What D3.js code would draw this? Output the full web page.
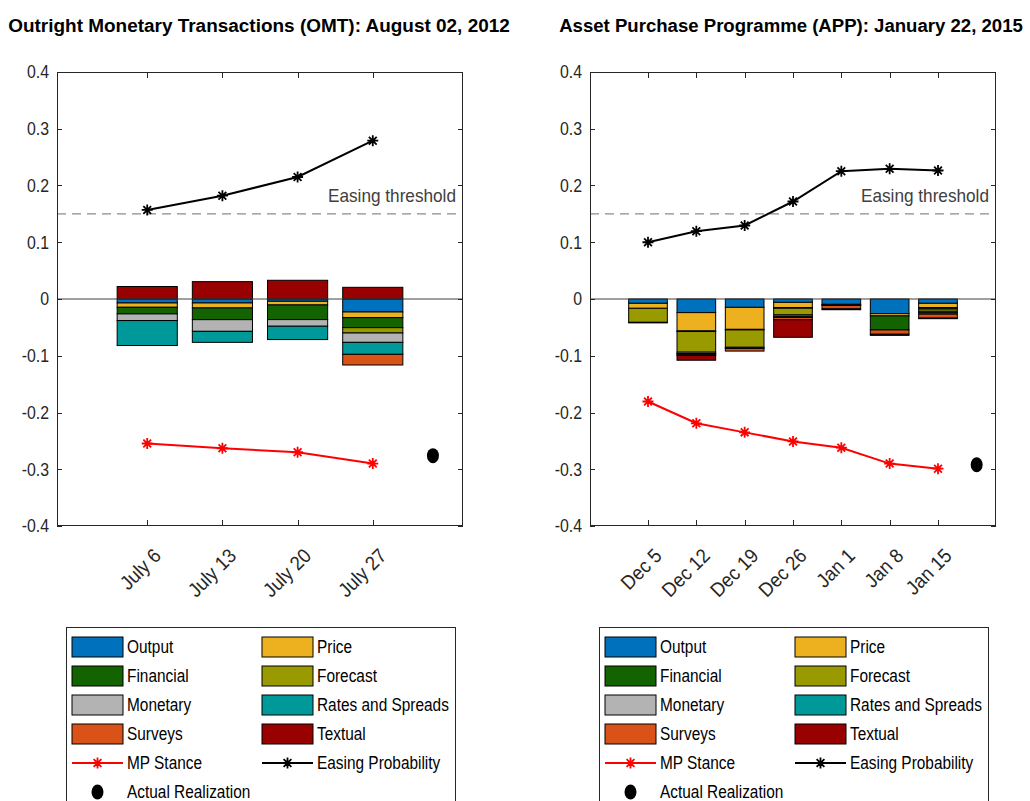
<!DOCTYPE html>
<html>
<head>
<meta charset="utf-8">
<script src="https://cdn.jsdelivr.net/npm/d3@7"></script>
<style>
  html, body { margin: 0; padding: 0; background: #fff; }
  svg { display: block; }
  text { font-family: "Liberation Sans", Arial, Helvetica, sans-serif; }
</style>
</head>
<body>
<svg id="chart" width="1030" height="801"></svg>
<script>
// ---- Decomposition categories (stack order) ----
const seriesNames = ["Output", "Price", "Financial", "Forecast", "Monetary", "Rates and Spreads", "Surveys", "Textual"];
const seriesColors = ["#0072BD", "#EDB120", "#136300", "#999900", "#B3B3B3", "#009999", "#D95319", "#990000"];

const yTickValues = [-0.4, -0.3, -0.2, -0.1, 0, 0.1, 0.2, 0.3, 0.4];
const yTickLabels = ["-0.4", "-0.3", "-0.2", "-0.1", "0", "0.1", "0.2", "0.3", "0.4"];
const easingThreshold = 0.15;

// ---- OMT announcement (August 02, 2012) ----
const omtTitle = "Outright Monetary Transactions (OMT): August 02, 2012";
const omtDates = ["July 6", "July 13", "July 20", "July 27"];
const omtOutput    = [-0.0070, -0.0070, -0.0040, -0.0229];
const omtPrice     = [-0.0076, -0.0088, -0.0065, -0.0100];
const omtFinancial = [-0.0117, -0.0206, -0.0258, -0.0176];
const omtForecast  = [ 0.0000,  0.0000,  0.0000, -0.0094];
const omtMonetary  = [-0.0117, -0.0206, -0.0117, -0.0165];
const omtRates     = [-0.0440, -0.0194, -0.0235, -0.0211];
const omtSurveys   = [ 0.0000,  0.0000,  0.0000, -0.0188];
const omtTextual   = [ 0.0220,  0.0306,  0.0330,  0.0206];
const omtStance    = [-0.2546, -0.2630, -0.2700, -0.2900];
const omtEasing    = [ 0.1570,  0.1820,  0.2150,  0.2790];
const omtActual    = -0.2760;

// ---- APP announcement (January 22, 2015) ----
const appTitle = "Asset Purchase Programme (APP): January 22, 2015";
const appDates = ["Dec 5", "Dec 12", "Dec 19", "Dec 26", "Jan 1", "Jan 8", "Jan 15"];
const appOutput    = [-0.0076, -0.0240, -0.0147, -0.0059, -0.0094, -0.0258, -0.0076];
const appPrice     = [-0.0088, -0.0323, -0.0388, -0.0094, -0.0010, -0.0040, -0.0076];
const appFinancial = [ 0.0000, -0.0010, -0.0010, -0.0010,  0.0000, -0.0247, -0.0025];
const appForecast  = [-0.0247, -0.0364, -0.0306, -0.0117,  0.0000,  0.0000, -0.0040];
const appMonetary  = [-0.0010, -0.0025,  0.0000, -0.0025,  0.0000,  0.0000, -0.0025];
const appRates     = [ 0.0000, -0.0020, -0.0020, -0.0020, -0.0010,  0.0000, -0.0025];
const appSurveys   = [ 0.0000, -0.0015, -0.0047, -0.0040, -0.0060, -0.0076, -0.0070];
const appTextual   = [ 0.0000, -0.0082,  0.0000, -0.0310, -0.0015, -0.0020, -0.0010];
const appStance    = [-0.1806, -0.2190, -0.2350, -0.2510, -0.2620, -0.2900, -0.2990];
const appEasing    = [ 0.1000,  0.1195,  0.1295,  0.1718,  0.2252,  0.2294,  0.2264];
const appActual    = -0.2920;

const svg = d3.select("#chart");
svg.append("rect").attr("width", 1030).attr("height", 801).attr("fill", "#fff");

const AX = "#262626";
const FONT_SQUEEZE = 0.88;

// Horizontally condense text to mimic the narrow plotting font
function squeeze(sel, f) {
  sel.each(function () {
    const w = this.getComputedTextLength();
    d3.select(this).attr("textLength", w * f).attr("lengthAdjust", "spacingAndGlyphs");
  });
}

function asteriskPath(r) {
  const a = r * 0.7071;
  return `M0,${-r}L0,${r}M${-r},0L${r},0M${-a},${-a}L${a},${a}M${-a},${a}L${a},${-a}`;
}

function drawPanel(cfg) {
  const n = cfg.dates.length;
  const x = d3.scaleLinear().domain([-0.2, n + 1.2]).range([cfg.x0, cfg.x1]);
  const y = d3.scaleLinear().domain([-0.4, 0.4]).range([526, 72]);
  const g = svg.append("g");

  // stacked contributions: positives upward, negatives downward
  const rows = cfg.dates.map((d, i) => {
    const r = { idx: i + 1 };
    seriesNames.forEach((s, k) => { r[s] = cfg.series[k][i]; });
    return r;
  });
  const stacked = d3.stack().keys(seriesNames).offset(d3.stackOffsetDiverging)(rows);
  const bw = x(0.8) - x(0);
  stacked.forEach((layer, k) => {
    g.append("g").selectAll("rect")
      .data(layer.filter(d => d[1] !== d[0]))
      .join("rect")
      .attr("x", d => x(d.data.idx) - bw / 2)
      .attr("width", bw)
      .attr("y", d => y(Math.max(d[0], d[1])))
      .attr("height", d => Math.abs(y(d[0]) - y(d[1])))
      .attr("fill", seriesColors[k])
      .attr("stroke", "#000")
      .attr("stroke-width", 1);
  });

  // zero line
  g.append("line")
    .attr("x1", cfg.x0).attr("x2", cfg.x1)
    .attr("y1", y(0)).attr("y2", y(0))
    .attr("stroke", "#404040").attr("stroke-width", 1);

  // easing threshold
  g.append("line")
    .attr("x1", cfg.x0).attr("x2", cfg.x1)
    .attr("y1", y(easingThreshold)).attr("y2", y(easingThreshold))
    .attr("stroke", "#8c8c8c").attr("stroke-width", 1.2)
    .attr("stroke-dasharray", "9,6");
  g.append("text")
    .attr("x", cfg.x1 - 7).attr("y", y(easingThreshold) - 12)
    .attr("text-anchor", "end")
    .attr("font-size", 19).attr("fill", "#404040")
    .attr("textLength", 128).attr("lengthAdjust", "spacingAndGlyphs")
    .text("Easing threshold");

  const line = d3.line().x((d, i) => x(i + 1)).y(d => y(d));

  // easing probability
  g.append("path").datum(cfg.easing).attr("d", line)
    .attr("fill", "none").attr("stroke", "#000").attr("stroke-width", 2);
  g.append("g").selectAll("path").data(cfg.easing).join("path")
    .attr("transform", (d, i) => `translate(${x(i + 1)},${y(d)})`)
    .attr("d", asteriskPath(5.5))
    .attr("stroke", "#000").attr("stroke-width", 1.8).attr("fill", "none");

  // MP stance
  g.append("path").datum(cfg.stance).attr("d", line)
    .attr("fill", "none").attr("stroke", "#ff0000").attr("stroke-width", 2);
  g.append("g").selectAll("path").data(cfg.stance).join("path")
    .attr("transform", (d, i) => `translate(${x(i + 1)},${y(d)})`)
    .attr("d", asteriskPath(5.5))
    .attr("stroke", "#ff0000").attr("stroke-width", 1.8).attr("fill", "none");

  // actual realization
  g.append("ellipse")
    .attr("cx", x(n + 0.8)).attr("cy", y(cfg.actual))
    .attr("rx", 6).attr("ry", 7.5).attr("fill", "#000");

  // axes box
  g.append("rect")
    .attr("x", cfg.x0 + 0.5).attr("y", 72.5)
    .attr("width", cfg.x1 - cfg.x0 - 1).attr("height", 526 - 72 - 1)
    .attr("fill", "none").attr("stroke", AX).attr("stroke-width", 1);

  // y ticks (inward, both sides) and labels
  const yt = g.append("g");
  yTickValues.forEach((v, i) => {
    const yy = Math.round(y(v)) + 0.5;
    yt.append("line").attr("x1", cfg.x0).attr("x2", cfg.x0 + 5).attr("y1", yy).attr("y2", yy).attr("stroke", AX);
    yt.append("line").attr("x1", cfg.x1 - 5).attr("x2", cfg.x1).attr("y1", yy).attr("y2", yy).attr("stroke", AX);
    yt.append("text")
      .attr("x", cfg.x0 - 8).attr("y", y(v)).attr("dy", "0.36em")
      .attr("text-anchor", "end").attr("font-size", 18).attr("fill", AX)
      .text(yTickLabels[i])
      .call(squeeze, FONT_SQUEEZE);
  });

  // x ticks (inward, top and bottom) and rotated labels
  const xt = g.append("g");
  cfg.dates.forEach((d, i) => {
    const xx = Math.round(x(i + 1)) + 0.5;
    xt.append("line").attr("x1", xx).attr("x2", xx).attr("y1", 526).attr("y2", 520).attr("stroke", AX);
    xt.append("line").attr("x1", xx).attr("x2", xx).attr("y1", 72).attr("y2", 78).attr("stroke", AX);
    xt.append("text")
      .attr("transform", `translate(${x(i + 1) + 15},${557}) rotate(-45)`)
      .attr("text-anchor", "end").attr("font-size", 20).attr("fill", AX)
      .text(d)
      .call(squeeze, 0.92);
  });

  // title: condensed horizontally to its target width
  const title = g.append("text")
    .attr("x", 0).attr("y", 0)
    .attr("text-anchor", "middle").attr("font-size", 19).attr("font-weight", "bold")
    .attr("fill", "#000")
    .text(cfg.title);
  const tw = title.node().getComputedTextLength();
  title.attr("transform", `translate(${cfg.titleX},32) scale(${cfg.titleWidth / tw},1)`);

  // legend
  const lg = svg.append("g").attr("transform", `translate(${cfg.x0 + 9},627)`);
  lg.append("rect").attr("x", 0.5).attr("y", 0.5).attr("width", 389).attr("height", 190)
    .attr("fill", "#fff").attr("stroke", AX).attr("stroke-width", 1);
  const rowY = i => 20 + i * 29;
  seriesNames.forEach((s, k) => {
    const col = k % 2, row = Math.floor(k / 2);
    const sx = col === 0 ? 6 : 196;
    lg.append("rect").attr("x", sx).attr("y", rowY(row) - 10).attr("width", 51).attr("height", 20)
      .attr("fill", seriesColors[k]).attr("stroke", "#000").attr("stroke-width", 1);
    lg.append("text").attr("x", sx + 55).attr("y", rowY(row)).attr("dy", "0.36em")
      .attr("font-size", 17.5).attr("fill", "#000").text(s)
      .call(squeeze, FONT_SQUEEZE);
  });
  // line entries
  [["MP Stance", "#ff0000", 6], ["Easing Probability", "#000", 196]].forEach(([label, color, sx]) => {
    const yy = rowY(4);
    lg.append("line").attr("x1", sx).attr("x2", sx + 51).attr("y1", yy).attr("y2", yy)
      .attr("stroke", color).attr("stroke-width", 2);
    lg.append("path").attr("transform", `translate(${sx + 25.5},${yy})`).attr("d", asteriskPath(5.5))
      .attr("stroke", color).attr("stroke-width", 1.8).attr("fill", "none");
    lg.append("text").attr("x", sx + 55).attr("y", yy).attr("dy", "0.36em")
      .attr("font-size", 17.5).attr("fill", "#000").text(label)
      .call(squeeze, FONT_SQUEEZE);
  });
  lg.append("ellipse").attr("cx", 31.5).attr("cy", rowY(5)).attr("rx", 6).attr("ry", 7.5).attr("fill", "#000");
  lg.append("text").attr("x", 61).attr("y", rowY(5)).attr("dy", "0.36em")
    .attr("font-size", 17.5).attr("fill", "#000").text("Actual Realization")
    .call(squeeze, FONT_SQUEEZE);
}

drawPanel({
  x0: 57, x1: 463, title: omtTitle, titleX: 259, titleWidth: 502, dates: omtDates,
  series: [omtOutput, omtPrice, omtFinancial, omtForecast, omtMonetary, omtRates, omtSurveys, omtTextual],
  stance: omtStance, easing: omtEasing, actual: omtActual
});
drawPanel({
  x0: 590, x1: 996, title: appTitle, titleX: 791, titleWidth: 464, dates: appDates,
  series: [appOutput, appPrice, appFinancial, appForecast, appMonetary, appRates, appSurveys, appTextual],
  stance: appStance, easing: appEasing, actual: appActual
});
</script>
</body>
</html>
